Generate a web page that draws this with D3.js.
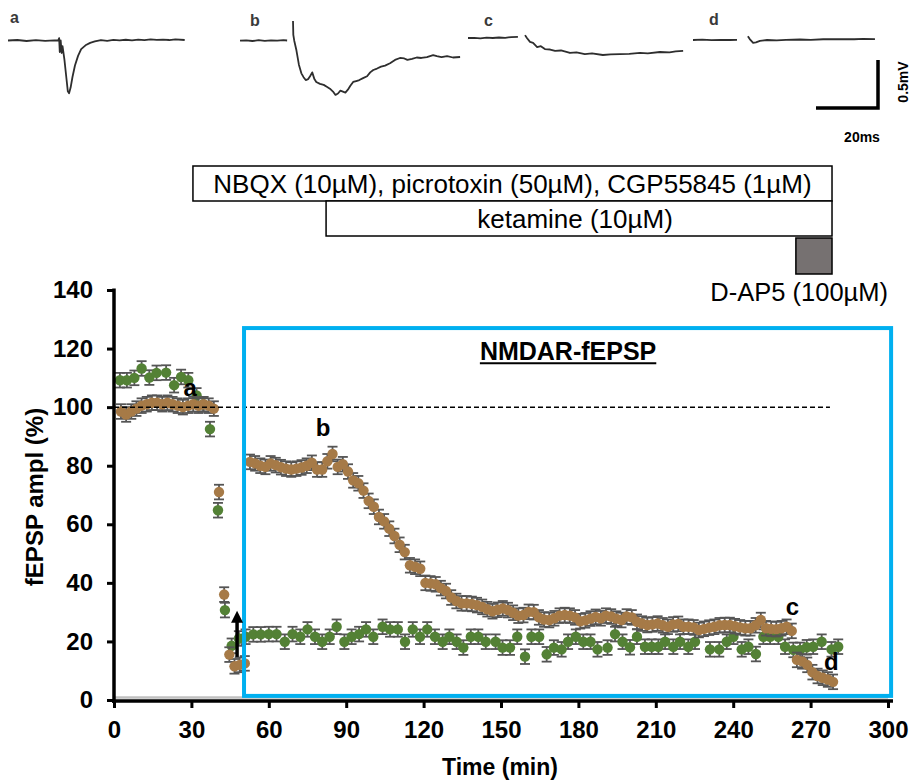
<!DOCTYPE html>
<html><head><meta charset="utf-8">
<script src="https://cdn.jsdelivr.net/npm/d3@7"></script>
<style>
body{margin:0;background:#fff;}
svg{display:block;font-family:Arial,"Liberation Sans",sans-serif;}
</style>
</head><body>
<svg id="chart" width="919" height="784"></svg>
<script>
// ---------------- DATA ----------------
const xTicks = [0,30,60,90,120,150,180,210,240,270,300];
const yTicks = [0,20,40,60,80,100,120,140];

// brown series (time in min, fEPSP ampl %)
const brownTime = [2.7,4.7,6.7,8.7,10.7,12.7,14.7,16.7,18.7,20.7,22.7,24.7,26.7,28.7,30.7,32.7,34.7,36.7,38.7,
 40.7,42.7,44.7,46.7,48.7,50.7,52.7,54.7,56.7,58.7,60.7,62.7,64.7,66.7,68.7,70.7,72.7,74.7,76.7,78.7,
 80.7,82.7,84.7,86.7,88.7,90.7,92.7,94.7,96.7,98.7,100.7,102.7,104.7,106.7,108.7,110.7,112.7,114.7,116.7,118.7,
 120.7,122.7,124.7,126.7,128.7,130.7,132.7,134.7,136.7,138.7,140.7,142.7,144.7,146.7,148.7,150.7,152.7,154.7,156.7,158.7,
 160.7,162.7,164.7,166.7,168.7,170.7,172.7,174.7,176.7,178.7,180.7,182.7,184.7,186.7,188.7,190.7,192.7,194.7,196.7,198.7,
 200.7,202.7,204.7,206.7,208.7,210.7,212.7,214.7,216.7,218.7,220.7,222.7,224.7,226.7,228.7,230.7,232.7,234.7,236.7,238.7,
 240.7,242.7,244.7,246.7,248.7,250.7,252.7,254.7,256.7,258.7,260.7,262.7,264.7,266.7,268.7,270.7,272.7,274.7,276.7,278.7];
const brownValue = [98.5,97.5,98.5,99.5,100.5,101,101.5,101.5,101,101.5,101,100.5,100,100.5,101,100.5,101,100.5,99.5,
 71,36,15.5,11.5,12,12.5,81.3,80.8,80,79.6,80.8,80.2,79.5,79,78.7,79,79.4,80,81,78.7,
 78.7,81.5,84,79.6,80.5,78,75,74,71.5,68,66,62.5,61,58.5,56,53,50.5,46,45.5,44.8,
 40,39.8,39.5,38.2,37.2,35,33.8,33,33,32.8,32.4,31.8,31,30.3,30.8,31.3,30.7,29.8,28.8,29,
 30.1,30,28.2,27.5,27.3,27.9,28.8,29,28.8,28.2,26.9,27.2,27.8,28.4,27.9,28.8,28.5,27.8,27.3,28.5,
 28.2,26.7,26.1,25.6,25.8,26.1,25.5,25,25.8,26,25,25,24.8,23.9,24.3,24.7,25,25.5,25.6,25.6,
 25.2,24.8,24.5,24.5,25.5,27.3,24.5,24.3,24.2,24.5,25,23.6,13.7,13.2,12,9.5,8.2,7.6,7,6.2];
const brownSem = 2.5;

// green series
const greenTime = [2.3,5.0,7.9,10.7,13.7,16.5,20.2,23.3,26.0,28.8,32.0,34.6,37.2,40.3,43.0,45.6,48.4,
 51.0,54.0,56.9,60.0,63.0,66.2,69.2,72.2,75.0,77.9,80.7,83.6,86.3,89.3,92.1,95.0,97.7,100.5,104.1,107.0,110.0,
 112.8,115.8,118.6,121.4,124.4,127.4,130.0,132.8,135.4,138.3,141.2,144.1,147.9,150.6,153.5,156.3,159.3,161.8,
 164.8,167.7,170.5,173.5,176.0,179.0,181.9,184.7,187.4,191.3,194.2,197.1,200.0,202.7,205.8,208.4,211.0,213.6,
 216.8,219.4,222.6,225.2,231.0,234.6,237.5,240.1,243.3,245.9,248.8,251.7,254.3,257.5,260.1,263.3,265.9,268.5,
 271.0,274.3,278.1,280.7];
const greenValue = [109.2,109.2,110,113.2,110.1,111.7,111.8,107.5,110.3,109.2,104,101,92.5,64.8,30.7,18.5,21,
 21.6,22.4,22.4,22.5,22.5,19.9,22.5,21.6,24.1,21.6,19.9,21.6,25,19.9,21.6,22.5,24.1,21.6,25,24.1,24.1,
 19.9,24.1,21.6,24.1,21.6,19.9,21.6,19.9,17.9,21.6,21.6,19.9,19.9,17.9,17.9,21.6,14.8,21.6,
 21.6,15.6,17.9,17.3,19.9,21.6,19.9,19.9,17.3,17.9,22.5,19.9,18,21.6,18.2,18.2,18.2,19.9,
 18.2,19.9,18.2,19.9,17.3,17.3,19.9,21.6,17.3,18.2,15.7,21.6,21.6,21.6,18.2,17.1,17.1,18,
 18.2,19.9,17.3,18.2];
const greenSem = 2.5;

// drug application bars (min)
const drugLabels = ["NBQX (10µM), picrotoxin (50µM), CGP55845 (1µM)", "ketamine (10µM)", "D-AP5 (100µM)"];
const drugStart = [30.6, 82.2, 264.3];
const drugEnd = [278.3, 278.3, 278.3];

// annotation letters
const letterLabels = ["a","b","c","d"];
const letterTime = [29.5, 81, 263, 278];
const letterValue = [106.5, 93, 31.7, 13];

// NMDAR-fEPSP box (min, %)
const boxTime = [50.4, 301.2];
const boxValue = [1.4, 127];
const baselineRef = 100;
const baselineEnd = 277.5;

// arrow (min, % from -> to)
const arrowTime = 47.7;
const arrowValue = [14.7, 30.5];

// example traces [ms, mV]; null breaks the line
const traceA = [[0,0],[3,0.005],[6,-0.005],[9,0.003],[12,-0.004],[15,0.002],[16.2,0],[16.5,0.025],[16.7,-0.12],[17.0,0.0],[17.3,-0.13],[17.6,-0.06],[18.2,-0.2],[18.8,-0.38],[19.3,-0.53],[19.7,-0.55],[20.2,-0.49],[20.8,-0.38],[21.6,-0.26],[22.6,-0.16],[23.6,-0.09],[25,-0.05],[26.5,-0.025],[28,-0.01],[30,0.005],[32,-0.003],[34,0.006],[36,0.002],[38,0.008],[40,0.002],[42,0.01],[44,0.004],[46,0.012],[48,0.006],[50,0.01],[52,0.005],[54,0.012],[57,0.005]];
const traceB = [[0,0],[2,0.004],[4,-0.003],[6,0.005],[8,-0.002],[10,0.004],[12,0],[14,0.005],[15.2,0.002],null,
 [17.1,0.205],[17.2,0.06],[17.5,0.0],[18.2,-0.1],[19,-0.25],[19.8,-0.34],[20.5,-0.38],[21.2,-0.41],[22,-0.4],[22.6,-0.37],[23.3,-0.33],[24,-0.4],[24.6,-0.43],[25.8,-0.45],[27,-0.46],[28,-0.48],[29,-0.5],[30,-0.53],[30.8,-0.565],[31.6,-0.55],[32.4,-0.52],[33.2,-0.53],[34,-0.54],[34.8,-0.51],[35.6,-0.47],[36.5,-0.43],[37.5,-0.42],[38.5,-0.41],[39.7,-0.39],[41,-0.37],[42,-0.33],[43,-0.305],[44.2,-0.29],[45.5,-0.27],[46.8,-0.26],[48.4,-0.235],[50,-0.2],[51.6,-0.18],[53,-0.185],[54,-0.2],[55.5,-0.19],[57,-0.175],[58.5,-0.18],[60.3,-0.17],[62.3,-0.15],[63.5,-0.16],[65,-0.17],[66.8,-0.16],[68.7,-0.175],[71,-0.17]];
const traceC = [[0,0],[2,0.002],[4,-0.003],[6,0.003],[8,0],[10,0.005],[12,0.002],[14,0.01],[16.1,0.012],null,
 [18.4,0.03],[19,0.0],[20,-0.04],[21,-0.05],[22.3,-0.094],[23.5,-0.085],[24.8,-0.115],[26.5,-0.12],[28.1,-0.135],[30,-0.13],[32.9,-0.156],[35,-0.15],[37.7,-0.167],[40,-0.16],[43.5,-0.177],[46,-0.17],[49,-0.167],[52,-0.165],[55.5,-0.156],[58,-0.16],[61.9,-0.146],[65,-0.15],[67,-0.14],[69.4,-0.135]];
const traceD = [[0,0],[3,0.003],[6,-0.002],[9,0.002],[12,0],[14.2,0.002],null,
 [17.7,0.04],[18.3,0.01],[19.4,-0.03],[20.3,-0.025],[21.6,-0.01],[23.9,0],[27,-0.004],[30,0.002],[34.5,0.005],[38,0.002],[42,0.008],[47.4,0.01],[52,0.008],[55,0.012],[58.7,0.01]];
const traceData = [traceA, traceB, traceC, traceD];
const traceNames = ["a","b","c","d"];
const scaleBarMs = 20, scaleBarMv = 0.5;

// ---------------- LAYOUT ----------------
const svg = d3.select("#chart");
const x = d3.scaleLinear().domain([0,300]).range([114,888]);
const y = d3.scaleLinear().domain([0,140]).range([700,290]);
const brown = "#A67A47", green = "#538135", errCol = "#555555";

// ---- traces ----
const traceX0 = [8,240,468,693], traceY0 = [40.5,40.7,38,40];
const pxPerMs = 3.1, pxPerMv = 96;
traceData.forEach((tr,i)=>{
  const tx = d3.scaleLinear().domain([0,1]).range([traceX0[i], traceX0[i]+pxPerMs]);
  const ty = d3.scaleLinear().domain([0,1]).range([traceY0[i], traceY0[i]-pxPerMv]);
  const line = d3.line().defined(d=>d!==null).x(d=>tx(d[0])).y(d=>ty(d[1]));
  svg.append("path").attr("d", line(tr)).attr("fill","none")
    .attr("stroke","#2e2e2e").attr("stroke-width",1.8).attr("stroke-linejoin","round");
});
const traceLabelPos = [[10,23],[250,26],[484,26],[709,25]];
traceNames.forEach((n,i)=>{
  svg.append("text").attr("x",traceLabelPos[i][0]).attr("y",traceLabelPos[i][1])
    .attr("font-size",16).attr("font-weight","bold").attr("fill","#3a3a3a").text(n);
});
// scale bar
{
  const sbx = d3.scaleLinear().domain([0,1]).range([878, 878 - pxPerMs]);
  const sby = d3.scaleLinear().domain([0,1]).range([108, 108 - pxPerMv]);
  svg.append("path").attr("d", `M${sbx(scaleBarMs)},${sby(0)}H${sbx(0)}V${sby(scaleBarMv)}`)
    .attr("fill","none").attr("stroke","#000").attr("stroke-width",3.5);
  svg.append("text").attr("transform","translate(908,82) rotate(-90)").attr("text-anchor","middle")
    .attr("font-size",14).attr("font-weight","bold").text(scaleBarMv+"mV");
  svg.append("text").attr("x",862).attr("y",142).attr("text-anchor","middle")
    .attr("font-size",14).attr("font-weight","bold").text(scaleBarMs+"ms");
}

// ---- drug bars ----
const barTop = [166,201,238], barH = [35,35,36];
drugLabels.forEach((lab,i)=>{
  const isAP5 = i===2;
  svg.append("rect").attr("x",x(drugStart[i])).attr("y",barTop[i])
    .attr("width",x(drugEnd[i])-x(drugStart[i])).attr("height",barH[i])
    .attr("fill", isAP5 ? "#767171" : "#fff").attr("stroke","#000").attr("stroke-width",1.5);
  if(!isAP5){
    svg.append("text").attr("x",(x(drugStart[i])+x(drugEnd[i]))/2 - (i===1?4:0)).attr("y",barTop[i]+barH[i]/2+9)
      .attr("text-anchor","middle").attr("font-size",26).text(lab);
  } else {
    svg.append("text").attr("x",x(300)).attr("y",301)
      .attr("text-anchor","end").attr("font-size",25.5).text(lab);
  }
});

// ---- plot ----
const plot = svg.append("g");
plot.append("line").attr("x1",x(0)).attr("x2",x(300)).attr("y1",697.5).attr("y2",697.5)
  .attr("stroke","#c0c0c0").attr("stroke-width",2.5);

function drawSeries(times, vals, sem, color){
  const g = plot.append("g");
  const data = times.map((t,i)=>({t, v: vals[i]}));
  const eb = g.append("g").attr("stroke",errCol).attr("stroke-width",1.8);
  data.forEach(d=>{
    const cx = x(d.t);
    eb.append("line").attr("x1",cx).attr("x2",cx).attr("y1",y(d.v-sem)).attr("y2",y(d.v+sem));
    eb.append("line").attr("x1",cx-5).attr("x2",cx+5).attr("y1",y(d.v-sem)).attr("y2",y(d.v-sem));
    eb.append("line").attr("x1",cx-5).attr("x2",cx+5).attr("y1",y(d.v+sem)).attr("y2",y(d.v+sem));
  });
  g.selectAll("circle").data(data).join("circle")
    .attr("cx",d=>x(d.t)).attr("cy",d=>y(d.v)).attr("r",5.2).attr("fill",color);
}
drawSeries(greenTime, greenValue, greenSem, green);
drawSeries(brownTime, brownValue, brownSem, brown);

// dashed 100% line
plot.append("line").attr("x1",x(0)).attr("x2",x(baselineEnd)).attr("y1",y(baselineRef)).attr("y2",y(baselineRef))
  .attr("stroke","#000").attr("stroke-width",1.5).attr("stroke-dasharray","5,3");

// blue box
plot.append("rect").attr("x",x(boxTime[0])).attr("y",y(boxValue[1]))
  .attr("width",x(boxTime[1])-x(boxTime[0])).attr("height",y(boxValue[0])-y(boxValue[1]))
  .attr("fill","none").attr("stroke","#00B0F0").attr("stroke-width",4);

// NMDAR label
{
  const t = plot.append("text").attr("x",x(176)).attr("y",y(116)).attr("text-anchor","middle")
    .attr("font-size",25).attr("font-weight","bold").text("NMDAR-fEPSP");
  const bb = t.node().getBBox();
  plot.append("line").attr("x1",bb.x).attr("x2",bb.x+bb.width).attr("y1",y(116)+3).attr("y2",y(116)+3)
    .attr("stroke","#000").attr("stroke-width",2);
}

// arrow
{
  const ax = x(arrowTime), y0 = y(arrowValue[0]), y1 = y(arrowValue[1]);
  plot.append("line").attr("x1",ax).attr("x2",ax).attr("y1",y0).attr("y2",y1+10)
    .attr("stroke","#000").attr("stroke-width",3.5);
  plot.append("path").attr("d",`M${ax},${y1}L${ax-6},${y1+12}L${ax+6},${y1+12}Z`).attr("fill","#000");
}

// letters
letterLabels.forEach((l,i)=>{
  plot.append("text").attr("x",x(letterTime[i])).attr("y",y(letterValue[i])+8).attr("text-anchor","middle")
    .attr("font-size",24).attr("font-weight","bold").text(l);
});

// axes
const yAxis = plot.append("g").attr("transform",`translate(${x(0)},0)`)
  .call(d3.axisLeft(y).tickValues(yTicks).tickSize(7).tickSizeOuter(0).tickPadding(14));
yAxis.select(".domain").remove();
yAxis.selectAll(".tick line").attr("stroke-width",3);
yAxis.selectAll("text").attr("font-size",24).attr("font-weight","bold").attr("font-family","Arial,'Liberation Sans',sans-serif").attr("fill","#000");
plot.append("line").attr("x1",x(0)).attr("x2",x(0)).attr("y1",y(140)-1.5).attr("y2",703)
  .attr("stroke","#000").attr("stroke-width",3.5);

const xAxis = plot.append("g").attr("transform",`translate(0,701)`)
  .call(d3.axisBottom(x).tickValues(xTicks).tickSize(7).tickSizeOuter(0).tickPadding(13));
xAxis.select(".domain").remove();
xAxis.selectAll(".tick line").attr("stroke-width",3);
xAxis.selectAll("text").attr("font-size",24).attr("font-weight","bold").attr("font-family","Arial,'Liberation Sans',sans-serif").attr("fill","#000");
plot.append("line").attr("x1",x(0)-2).attr("x2",893).attr("y1",701).attr("y2",701)
  .attr("stroke","#000").attr("stroke-width",3.5);

svg.append("text").attr("x",500).attr("y",775).attr("text-anchor","middle")
  .attr("font-size",23).attr("font-weight","bold").text("Time (min)");
svg.append("text").attr("transform","translate(43,497) rotate(-90)").attr("text-anchor","middle")
  .attr("font-size",24).attr("font-weight","bold").text("fEPSP ampl (%)");
</script>
</body></html>
